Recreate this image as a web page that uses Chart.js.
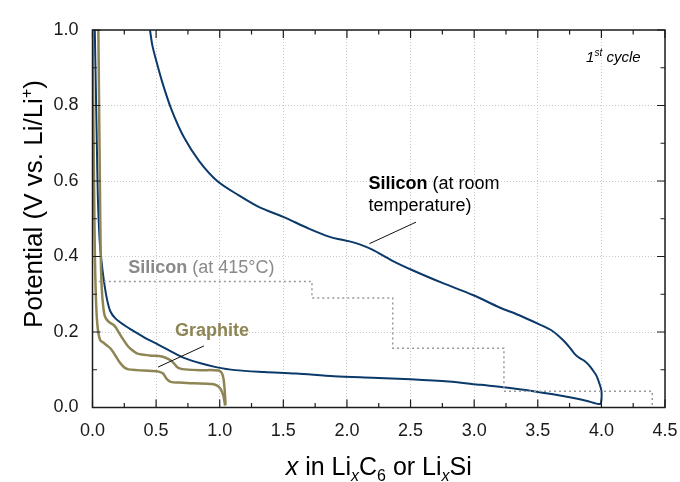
<!DOCTYPE html>
<html>
<head>
<meta charset="utf-8">
<script src="https://cdn.jsdelivr.net/npm/chart.js@4.4.0/dist/chart.umd.min.js"></script>
<style>
  html, body { margin: 0; padding: 0; background: #fff; }
  #wrap { width: 680px; height: 482px; }
</style>
</head>
<body>
<div id="wrap"><canvas id="c" width="680" height="482"></canvas></div>
<script>
// Silicon at room temperature, first cycle: lithiation branch, then delithiation branch
const siRtX = [0.018, 0.026, 0.034, 0.042, 0.055, 0.07, 0.09, 0.115, 0.14, 0.18, 0.25, 0.33, 0.42, 0.52, 0.62, 0.73, 0.85, 0.97, 1.12, 1.35, 1.6, 1.9, 2.2, 2.5, 2.8, 3.05, 3.25, 3.49, 3.62, 3.75, 3.88, 3.99,
               4.0, 4.0, 3.985, 3.96, 3.93, 3.90, 3.86, 3.82, 3.79, 3.76, 3.70, 3.61, 3.50, 3.35, 3.20, 2.99, 2.75, 2.52, 2.35, 2.20, 2.10, 2.02, 1.95, 1.865, 1.70, 1.50, 1.314, 1.15, 0.98, 0.84, 0.72, 0.62, 0.55, 0.50, 0.47, 0.452];
const siRtV = [1.0, 0.85, 0.70, 0.56, 0.45, 0.39, 0.335, 0.285, 0.255, 0.236, 0.218, 0.201, 0.183, 0.166, 0.148, 0.130, 0.117, 0.107, 0.099, 0.094, 0.090, 0.083, 0.079, 0.075, 0.069, 0.060, 0.053, 0.042, 0.035, 0.027, 0.018, 0.009,
               0.02, 0.045, 0.063, 0.085, 0.100, 0.113, 0.125, 0.133, 0.142, 0.155, 0.178, 0.204, 0.222, 0.245, 0.265, 0.298, 0.330, 0.363, 0.39, 0.418, 0.432, 0.440, 0.445, 0.452, 0.474, 0.505, 0.530, 0.562, 0.60, 0.652, 0.715, 0.79, 0.86, 0.92, 0.96, 1.0];

// Graphite, two first-cycle lithiation curves
const graphAX = [0.0, 0.006, 0.012, 0.018, 0.026, 0.038, 0.059, 0.085, 0.111, 0.145, 0.177, 0.205, 0.23, 0.255, 0.282, 0.35, 0.466, 0.52, 0.555, 0.585, 0.615, 0.676, 0.80, 0.938, 0.98, 1.003, 1.02, 1.03, 1.037, 1.042];
const graphAV = [1.0, 0.80, 0.60, 0.42, 0.30, 0.22, 0.179, 0.172, 0.165, 0.155, 0.139, 0.124, 0.113, 0.105, 0.101, 0.099, 0.097, 0.095, 0.090, 0.075, 0.068, 0.066, 0.064, 0.062, 0.058, 0.051, 0.040, 0.029, 0.016, 0.005];
const graphBX = [0.046, 0.052, 0.058, 0.064, 0.072, 0.085, 0.098, 0.124, 0.164, 0.185, 0.203, 0.24, 0.282, 0.32, 0.36, 0.45, 0.544, 0.58, 0.61, 0.64, 0.662, 0.69, 0.728, 0.85, 0.99, 1.017, 1.03, 1.037, 1.042, 1.046];
const graphBV = [1.0, 0.80, 0.60, 0.42, 0.32, 0.265, 0.241, 0.228, 0.219, 0.211, 0.201, 0.181, 0.161, 0.150, 0.142, 0.138, 0.135, 0.131, 0.126, 0.117, 0.108, 0.103, 0.101, 0.099, 0.098, 0.091, 0.075, 0.055, 0.030, 0.007];

// Silicon at 415 °C: equilibrium plateaus (start of each plateau, plateau potential)
const si415X = [0.05, 1.725, 2.36, 3.234, 4.40];
const si415V = [0.334, 0.290, 0.157, 0.043, 0.0];

// Axis ticks
const xTicks = [0, 0.5, 1.0, 1.5, 2.0, 2.5, 3.0, 3.5, 4.0, 4.5];
const yTicks = [0, 0.2, 0.4, 0.6, 0.8, 1.0];

const BLUE = '#0b3a6a';
const OLIVE = '#8e8554';
const GREY = '#999999';
const FONT = '"Liberation Sans", Arial, Helvetica, sans-serif';

const pts = (xs, ys) => xs.map((v, i) => ({ x: v, y: ys[i] }));

// Draws a run of text pieces with their own font / vertical shift
function richText(ctx, x, y, parts, align) {
  let total = 0;
  parts.forEach(p => { ctx.font = p.font; p.w = ctx.measureText(p.t).width; total += p.w; });
  let cx = align === 'center' ? x - total / 2 : x;
  ctx.textAlign = 'left';
  ctx.textBaseline = 'alphabetic';
  parts.forEach(p => {
    ctx.font = p.font;
    ctx.fillStyle = p.color || '#000';
    ctx.fillText(p.t, cx, y + (p.dy || 0));
    cx += p.w;
  });
}

const decor = {
  id: 'decor',
  afterDatasetsDraw(chart) {
    const { ctx, chartArea: a, scales: { x, y } } = chart;
    const X = v => x.getPixelForValue(v);
    const Y = v => y.getPixelForValue(v);
    ctx.save();

    // plot frame
    ctx.strokeStyle = '#1c1c1c';
    ctx.lineWidth = 1.5;
    ctx.strokeRect(a.left, a.top, a.right - a.left, a.bottom - a.top);

    // inward tick marks on all four sides (major + minor)
    ctx.lineWidth = 1.2;
    ctx.beginPath();
    for (let i = 0; i <= 18; i++) {
      const px = X(i * 0.25), L = i % 2 === 0 ? 8 : 4.5;
      ctx.moveTo(px, a.bottom); ctx.lineTo(px, a.bottom - L);
      ctx.moveTo(px, a.top); ctx.lineTo(px, a.top + L);
    }
    for (let i = 0; i <= 10; i++) {
      const py = Y(i * 0.1), L = i % 2 === 0 ? 8 : 4.5;
      ctx.moveTo(a.left, py); ctx.lineTo(a.left + L, py);
      ctx.moveTo(a.right, py); ctx.lineTo(a.right - L, py);
    }
    ctx.stroke();

    // leader lines
    ctx.strokeStyle = '#111';
    ctx.lineWidth = 1;
    ctx.beginPath();
    ctx.moveTo(X(2.543), Y(0.491)); ctx.lineTo(X(2.177), Y(0.434));
    ctx.moveTo(X(0.876), Y(0.163)); ctx.lineTo(X(0.515), Y(0.107));
    ctx.stroke();

    // curve labels
    richText(ctx, X(2.169), Y(0.578), [
      { t: 'Silicon', font: 'bold 18px ' + FONT },
      { t: ' (at room', font: '18px ' + FONT }
    ]);
    richText(ctx, X(2.169), Y(0.520), [{ t: 'temperature)', font: '18px ' + FONT }]);
    richText(ctx, X(0.281), Y(0.357), [
      { t: 'Silicon', font: 'bold 18px ' + FONT, color: '#8a8a8a' },
      { t: ' (at 415°C)', font: '18px ' + FONT, color: '#8a8a8a' }
    ]);
    richText(ctx, X(0.648), Y(0.189), [{ t: 'Graphite', font: 'bold 18px ' + FONT, color: OLIVE }]);
    richText(ctx, X(3.88), Y(0.915), [
      { t: '1', font: 'italic 15px ' + FONT },
      { t: 'st', font: 'italic 10px ' + FONT, dy: -6 },
      { t: ' cycle', font: 'italic 15px ' + FONT }
    ]);

    // axis titles
    const big = '25px ' + FONT, bigI = 'italic 25px ' + FONT, sub = '16px ' + FONT, subI = 'italic 16px ' + FONT;
    richText(ctx, (a.left + a.right) / 2, 475, [
      { t: 'x', font: bigI },
      { t: ' in Li', font: big },
      { t: 'x', font: subI, dy: 6 },
      { t: 'C', font: big },
      { t: '6', font: sub, dy: 6 },
      { t: ' or Li', font: big },
      { t: 'x', font: subI, dy: 6 },
      { t: 'Si', font: big }
    ], 'center');

    const yt = '26px ' + FONT;
    ctx.translate(42, 204);
    ctx.rotate(-Math.PI / 2);
    richText(ctx, 0, 0, [
      { t: 'Potential (V vs. Li/Li', font: yt },
      { t: '+', font: sub, dy: -10 },
      { t: ')', font: yt }
    ], 'center');
    ctx.restore();
  }
};

new Chart(document.getElementById('c'), {
  type: 'scatter',
  data: {
    datasets: [
      { data: pts(si415X, si415V), showLine: true, stepped: 'before', borderColor: GREY, borderWidth: 1.5, borderDash: [2, 3], pointRadius: 0 },
      { data: pts(graphAX, graphAV), showLine: true, borderColor: OLIVE, borderWidth: 2.5, pointRadius: 0, tension: 0.3 },
      { data: pts(graphBX, graphBV), showLine: true, borderColor: OLIVE, borderWidth: 2.5, pointRadius: 0, tension: 0.3 },
      { data: pts(siRtX, siRtV), showLine: true, borderColor: BLUE, borderWidth: 2, pointRadius: 0, tension: 0.3 }
    ]
  },
  options: {
    responsive: false,
    animation: false,
    devicePixelRatio: 1,
    layout: { padding: { top: 30, right: 15, left: 0, bottom: 0 } },
    plugins: { legend: { display: false }, tooltip: { enabled: false } },
    scales: {
      x: {
        type: 'linear', min: 0, max: 4.5,
        afterFit: s => { s.height = 74.5; s.paddingLeft = 0; s.paddingRight = 0; },
        afterBuildTicks: s => { s.ticks = xTicks.map(v => ({ value: v })); },
        grid: { color: '#c9c9c9', lineWidth: 1, drawTicks: false },
        border: { display: false, dash: [1, 2] },
        ticks: { padding: 13, color: '#1a1a1a', font: { family: FONT, size: 18 }, callback: v => Number(v).toFixed(1), maxRotation: 0 }
      },
      y: {
        type: 'linear', min: 0, max: 1,
        afterFit: s => { s.width = 92.5; s.paddingTop = 0; s.paddingBottom = 0; },
        afterBuildTicks: s => { s.ticks = yTicks.map(v => ({ value: v })); },
        grid: { color: '#c9c9c9', lineWidth: 1, drawTicks: false },
        border: { display: false, dash: [1, 2] },
        ticks: { padding: 14, color: '#1a1a1a', font: { family: FONT, size: 18 }, callback: v => Number(v).toFixed(1) }
      }
    }
  },
  plugins: [decor]
});
</script>
</body>
</html>
